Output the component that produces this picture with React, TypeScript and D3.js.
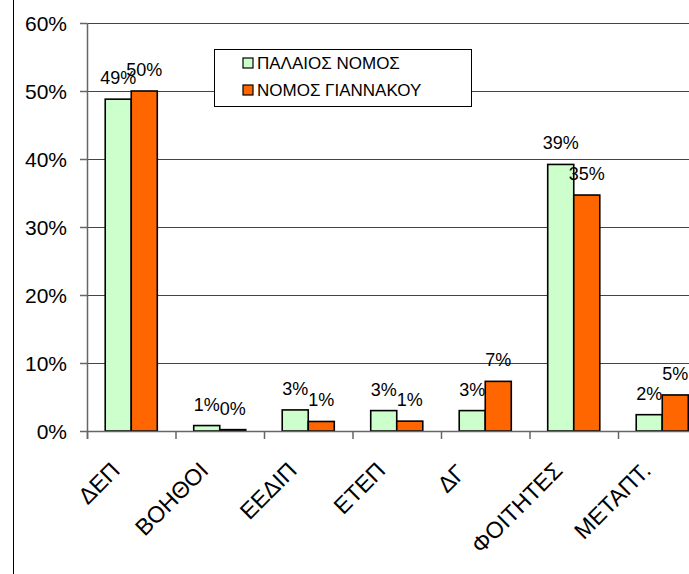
import React from 'react';
import * as d3 from 'd3';

const categories = ['ΔΕΠ', 'ΒΟΗΘΟΙ', 'ΕΕΔΙΠ', 'ΕΤΕΠ', 'ΔΓ', 'ΦΟΙΤΗΤΕΣ', 'ΜΕΤΑΠΤ.'];
const seriesNames = ['ΠΑΛΑΙΟΣ ΝΟΜΟΣ', 'ΝΟΜΟΣ ΓΙΑΝΝΑΚΟΥ'];
const oldLaw = [0.488, 0.008, 0.031, 0.03, 0.03, 0.392, 0.024];
const newLaw = [0.5, 0.002, 0.014, 0.0145, 0.073, 0.347, 0.053];
const yTicks = [0, 0.1, 0.2, 0.3, 0.4, 0.5, 0.6];
const colors = ['#CCFFCC', '#FF6600'];

const W = 689;
const H = 574;
const FONT = 'Liberation Sans, Arial, sans-serif';

const App = () => {
  const values = [oldLaw, newLaw];

  const y = d3.scaleLinear().domain([0, 0.6]).range([431, 23]);
  const x0 = d3.scaleBand().domain(categories).range([87, 706.5]);
  const x1 = d3
    .scaleBand()
    .domain(seriesNames)
    .range([0, x0.bandwidth()])
    .paddingOuter(0.7);

  const fmt = d3.format('.0%');

  return (
    <svg
      width={W}
      height={H}
      style={{ position: 'absolute', left: 0, top: 0, display: 'block', background: '#fff' }}
      fontFamily={FONT}
    >
      <defs>
        <clipPath id="dgClip">
          <rect x={0} y={440} width={463} height={134} />
        </clipPath>
      </defs>
      <rect x={0} y={0} width={W} height={H} fill="#fff" />
      <line x1={13.5} x2={13.5} y1={0} y2={H} stroke="#000" strokeWidth={1} />

      {/* gridlines */}
      {yTicks.slice(1).map((t) => (
        <line key={t} x1={87} x2={W} y1={Math.round(y(t)) + 0.5} y2={Math.round(y(t)) + 0.5} stroke="#444" strokeWidth={1} />
      ))}

      {/* y axis */}
      <line x1={87.5} x2={87.5} y1={y(0.6)} y2={439} stroke="#666" strokeWidth={1.5} />
      {yTicks.map((t) => (
        <g key={t}>
          <line x1={80} x2={87} y1={Math.round(y(t)) + 0.5} y2={Math.round(y(t)) + 0.5} stroke="#666" strokeWidth={1.5} />
          <text x={67} y={y(t) + 7.5} textAnchor="end" fontSize={21} fill="#000">
            {fmt(t)}
          </text>
        </g>
      ))}

      {/* bars */}
      {categories.map((c, i) =>
        seriesNames.map((s, j) => {
          const v = values[j][i];
          const bx = (x0(c) as number) + (x1(s) as number);
          const bw = x1.bandwidth();
          return (
            <g key={c + s}>
              <rect
                x={bx}
                y={y(v)}
                width={bw}
                height={Math.max(0.5, y(0) - y(v))}
                fill={colors[j]}
                stroke="#000"
                strokeWidth={1.6}
              />
              <text x={bx + bw / 2} y={y(v) - 15} textAnchor="middle" fontSize={18} fill="#000">
                {fmt(v)}
              </text>
            </g>
          );
        })
      )}

      {/* x axis */}
      <line x1={87} x2={W} y1={431.5} y2={431.5} stroke="#666" strokeWidth={1.5} />
      {categories.map((c) => (
        <line key={c} x1={(x0(c) as number) + 0.5} x2={(x0(c) as number) + 0.5} y1={431} y2={439} stroke="#666" strokeWidth={1.5} />
      ))}
      {categories.map((c) => {
        const cx = (x0(c) as number) + x0.bandwidth() / 2;
        if (c === 'ΔΓ') {
          // label partly hidden in the original
          return (
            <g key={c} clipPath="url(#dgClip)">
              <g transform="translate(447,494) rotate(-45)">
                <text x={0} y={0} textAnchor="start" fontSize={23} fill="#000">
                  {c}
                </text>
              </g>
            </g>
          );
        }
        return (
          <g key={c} transform={`translate(${cx - 10},472) rotate(-45)`}>
            <text x={0} y={0} textAnchor="end" fontSize={23} fill="#000">
              {c}
            </text>
          </g>
        );
      })}

      {/* legend */}
      <rect x={214.5} y={49.5} width={257} height={57} fill="#fff" stroke="#000" strokeWidth={1} />
      {seriesNames.map((s, j) => (
        <g key={s} transform={`translate(243,${58 + j * 27})`}>
          <rect x={0} y={0} width={10} height={10} fill={colors[j]} stroke="#000" strokeWidth={1.2} />
          <text x={14} y={10.5} fontSize={17} fill="#000">
            {s}
          </text>
        </g>
      ))}
    </svg>
  );
};

export default App;
